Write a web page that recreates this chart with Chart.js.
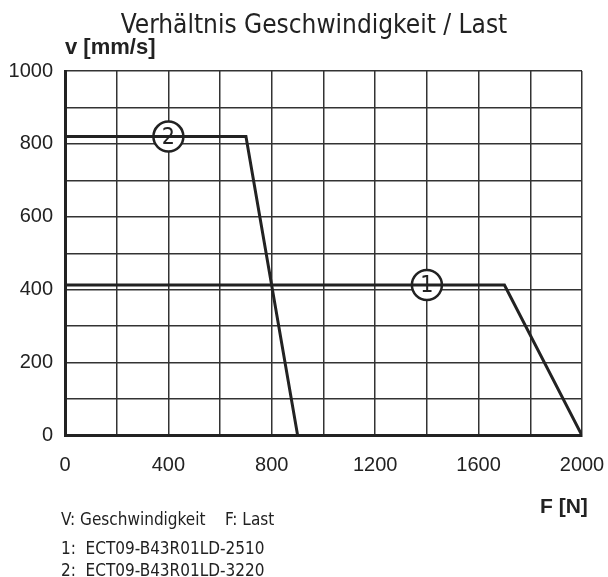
<!DOCTYPE html>
<html>
<head>
<meta charset="utf-8">
<script src="https://cdn.jsdelivr.net/npm/chart.js@4.4.1/dist/chart.umd.min.js"></script>
<style>
  html, body { margin: 0; padding: 0; background: #fff; }
  #wrap { width: 608px; height: 577px; position: relative; }
</style>
</head>
<body>
<div id="wrap"><canvas id="c" width="608" height="577"></canvas></div>
<script>
// ---- data ----
const titleText = 'Verhältnis Geschwindigkeit / Last';
const yAxisTitle = 'v [mm/s]';
const xAxisTitle = 'F [N]';
const notes = ['V: Geschwindigkeit    F: Last', '1:  ECT09-B43R01LD-2510', '2:  ECT09-B43R01LD-3220'];

const series1Force = [0, 1700, 2000];
const series1Speed = [413, 413, 0];
const series2Force = [0, 700, 900];
const series2Speed = [820, 820, 0];

const markerLabels = ['1', '2'];
const markerForce = [1400, 400];
const markerSpeed = [413, 820];

const xMin = 0, xMax = 2000, xGridStep = 200, xLabelStep = 400;
const yMin = 0, yMax = 1000, yGridStep = 100, yLabelStep = 200;

const NARROW = '"Liberation Sans Narrow", "DejaVu Sans Condensed", "Liberation Sans", sans-serif';
const SANS = '"Liberation Sans", Arial, sans-serif';
const INK = '#222';

const toPts = (xs, ys) => xs.map((x, i) => ({ x: x, y: ys[i] }));

const textPlugin = {
  id: 'texts',
  afterDraw(chart) {
    const ctx = chart.ctx;
    ctx.save();
    ctx.fillStyle = INK;
    ctx.textBaseline = 'alphabetic';
    // title
    ctx.font = '26px ' + NARROW;
    ctx.textAlign = 'center';
    ctx.fillText(titleText, 314, 33);
    // y axis title
    ctx.font = 'bold 22px ' + SANS;
    ctx.textAlign = 'left';
    ctx.fillText(yAxisTitle, 65, 54);
    // x axis title
    ctx.font = 'bold 21px ' + SANS;
    ctx.textAlign = 'left';
    ctx.fillText(xAxisTitle, 540, 513);
    // notes
    ctx.font = '17px ' + NARROW;
    ctx.fillText(notes[0], 61, 525);
    ctx.fillText(notes[1], 61, 554);
    ctx.fillText(notes[2], 61, 576);
    ctx.restore();
  }
};

const markerTextPlugin = {
  id: 'markerText',
  afterDatasetsDraw(chart) {
    const meta = chart.getDatasetMeta(2);
    const ctx = chart.ctx;
    ctx.save();
    ctx.fillStyle = INK;
    ctx.font = '23px ' + NARROW;
    ctx.textAlign = 'center';
    ctx.textBaseline = 'middle';
    meta.data.forEach((pt, i) => {
      ctx.fillText(markerLabels[i], pt.x, pt.y + 1);
    });
    ctx.restore();
  }
};

new Chart(document.getElementById('c'), {
  type: 'scatter',
  data: {
    datasets: [
      { data: toPts(series1Force, series1Speed), showLine: true, borderColor: INK, borderWidth: 3, pointRadius: 0, fill: false, tension: 0 },
      { data: toPts(series2Force, series2Speed), showLine: true, borderColor: INK, borderWidth: 3, pointRadius: 0, fill: false, tension: 0 },
      { data: toPts(markerForce, markerSpeed), showLine: false, pointRadius: 15, pointBorderWidth: 2.5, pointBorderColor: INK, pointBackgroundColor: '#fff', pointStyle: 'circle' }
    ]
  },
  options: {
    responsive: false,
    animation: false,
    events: [],
    layout: { padding: { top: 71, left: 0, right: 26, bottom: 0 } },
    plugins: { legend: { display: false }, tooltip: { enabled: false }, title: { display: false } },
    scales: {
      x: {
        type: 'linear', min: xMin, max: xMax,
        afterFit(s) { s.height = 577 - 435.5; s.paddingLeft = 0; s.paddingRight = 0; },
        border: { display: true, width: 3, color: INK },
        grid: { color: '#333', lineWidth: 1.5, drawTicks: false },
        ticks: {
          stepSize: xGridStep, padding: 18, color: INK, maxRotation: 0, autoSkip: false,
          font: { family: SANS, size: 20 },
          callback: v => (v % xLabelStep === 0 ? String(v) : '')
        }
      },
      y: {
        type: 'linear', min: yMin, max: yMax,
        afterFit(s) { s.width = 65; s.paddingTop = 0; s.paddingBottom = 0; },
        border: { display: true, width: 3, color: INK },
        grid: { color: '#333', lineWidth: 1.5, drawTicks: false },
        ticks: {
          stepSize: yGridStep, padding: 12, color: INK, autoSkip: false,
          font: { family: SANS, size: 20 },
          callback: v => (v % yLabelStep === 0 ? String(v) : '')
        }
      }
    }
  },
  plugins: [textPlugin, markerTextPlugin]
});
</script>
</body>
</html>
